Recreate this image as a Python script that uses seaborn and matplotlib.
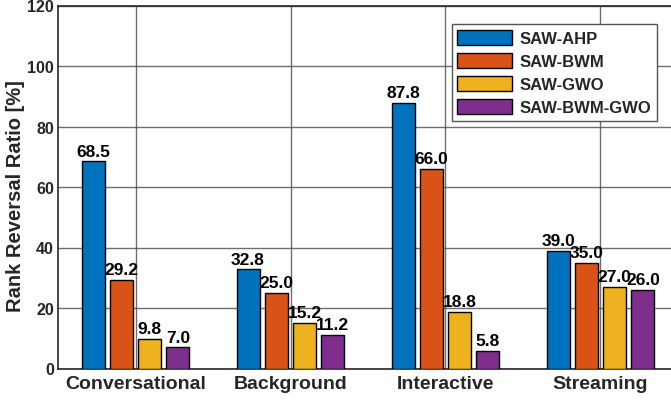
import matplotlib
matplotlib.use("Agg")
import matplotlib.pyplot as plt
import seaborn as sns
import pandas as pd

categories = ["Conversational", "Background", "Interactive", "Streaming"]
methods = ["SAW-AHP", "SAW-BWM", "SAW-GWO", "SAW-BWM-GWO"]
saw_ahp = [68.5, 32.8, 87.8, 39.0]
saw_bwm = [29.2, 25.0, 66.0, 35.0]
saw_gwo = [9.8, 15.2, 18.8, 27.0]
saw_bwm_gwo = [7.0, 11.2, 5.8, 26.0]
yticks = [0, 20, 40, 60, 80, 100, 120]

colors = ["#0072BD", "#D95319", "#EDB120", "#7E2F8E"]

rows = []
for m, vals in zip(methods, [saw_ahp, saw_bwm, saw_gwo, saw_bwm_gwo]):
    for c, v in zip(categories, vals):
        rows.append({"Category": c, "Method": m, "Value": v})
df = pd.DataFrame(rows)

sns.set_theme(style="white")
plt.rcParams["font.family"] = ["Liberation Sans", "DejaVu Sans"]
plt.rcParams["font.weight"] = "bold"

fig = plt.figure(figsize=(6.71, 4.02), dpi=100)
ax = fig.add_axes([58 / 671, (402 - 369.5) / 402, 620 / 671, 363 / 402])

sns.barplot(data=df, x="Category", y="Value", hue="Method", order=categories,
            hue_order=methods, palette=colors, width=0.73, gap=0.19,
            edgecolor="black", linewidth=1.0, saturation=1, ax=ax, zorder=3)

for cont in ax.containers:
    ax.bar_label(cont, fmt="%.1f", padding=2, fontsize=12.5, fontweight="bold",
                 color="black")

ax.set_xlim(-0.5, 3.5)
ax.set_ylim(0, 120)
ax.set_yticks(yticks)
ax.set_xlabel("")
ax.set_ylabel("Rank Reversal Ratio [%]", fontsize=14.5, fontweight="bold",
              color="#262626")
ax.yaxis.set_label_coords(-0.053, 0.477)
ax.tick_params(axis="x", labelsize=14, colors="#262626", direction="in",
               length=4, pad=5)
ax.tick_params(axis="y", labelsize=11.5, colors="#262626", direction="in",
               length=4, pad=3)
for lab in ax.get_xticklabels() + ax.get_yticklabels():
    lab.set_fontweight("bold")

ax.grid(True, color="#555555", linewidth=1.0, alpha=0.85, zorder=0)
ax.set_axisbelow(True)
for sp in ax.spines.values():
    sp.set_color("#262626")
    sp.set_linewidth(1.2)

leg = ax.legend(loc="upper right", bbox_to_anchor=(0.979, 0.971),
                fontsize=12, handlelength=3.3, handleheight=1.0,
                borderpad=0.35, labelspacing=0.4, handletextpad=0.4,
                fancybox=False, frameon=True, framealpha=1)
leg.get_frame().set_edgecolor("#555555")
leg.get_frame().set_linewidth(1.0)
for t in leg.get_texts():
    t.set_fontweight("bold")
    t.set_color("#262626")

fig.savefig("out.png", dpi=100)
